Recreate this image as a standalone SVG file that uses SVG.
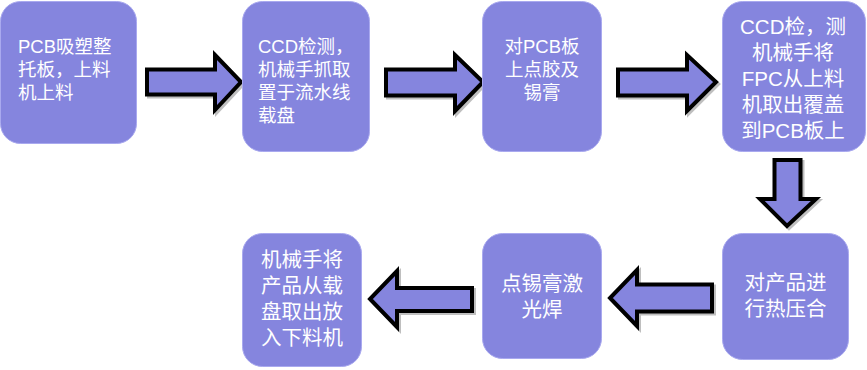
<svg xmlns="http://www.w3.org/2000/svg" width="867" height="370" viewBox="0 0 867 370">
<defs>
<style>
.box{fill:#8585de;stroke:#a9a9ef;stroke-width:1}
.arr{fill:#8585de;stroke:#000;stroke-width:4;stroke-linejoin:miter}
.sh{fill:none;stroke:#000;stroke-opacity:0.25;stroke-width:4}
.t{fill:#fff;font-family:"Liberation Sans","Noto Sans CJK SC",sans-serif}
.s18{font-size:18.5px}
.s20{font-size:20.5px}
.c{text-anchor:middle}
</style>
</defs>
<rect width="867" height="370" fill="#fff"/>
<g id="connectors">
<polygon class="sh" points="149,71.5 217,71.5 217,57 243,84 217,112 217,96.5 149,96.5"/>
<polygon class="arr" points="147,69.5 215,69.5 215,55 241,82 215,110 215,94.5 147,94.5"/>
<polygon class="sh" points="388,71.5 457,71.5 457,57 485,84 457,113 457,97.5 388,97.5"/>
<polygon class="arr" points="386,69.5 455,69.5 455,55 483,82 455,111 455,95.5 386,95.5"/>
<polygon class="sh" points="620,71.5 689,71.5 689,57 718,84 689,113 689,97.5 620,97.5"/>
<polygon class="arr" points="618,69.5 687,69.5 687,55 716,82 687,111 687,95.5 618,95.5"/>
<polygon class="sh" points="776.5,162 802.5,162 802.5,201 818,201 789,228 762,201 776.5,201"/>
<polygon class="arr" points="774.5,160 800.5,160 800.5,199 816,199 787,226 760,199 774.5,199"/>
<polygon class="sh" points="714,286.5 639,286.5 639,272 612,300 639,328 639,313.5 714,313.5"/>
<polygon class="arr" points="712,284.5 637,284.5 637,270 610,298 637,326 637,311.5 712,311.5"/>
<polygon class="sh" points="474,290 399,290 399,273 372,301 399,329 399,313 474,313"/>
<polygon class="arr" points="472,288 397,288 397,271 370,299 397,327 397,311 472,311"/>
</g>
<g id="n1">
<rect class="box" x="0.5" y="1.5" width="136" height="142" rx="20"/>
<text class="t s18"><tspan x="18" y="53">PCB吸塑整</tspan><tspan x="18" y="76">托板，上料</tspan><tspan x="18" y="99">机上料</tspan></text>
</g>
<g id="n2">
<rect class="box" x="242.5" y="1.5" width="127" height="150" rx="20"/>
<text class="t s18"><tspan x="258" y="53">CCD检测，</tspan><tspan x="258" y="76">机械手抓取</tspan><tspan x="258" y="99">置于流水线</tspan><tspan x="258" y="122">载盘</tspan></text>
</g>
<g id="n3">
<rect class="box" x="482.5" y="1.5" width="119" height="150" rx="20"/>
<text class="t s18 c"><tspan x="542" y="53">对PCB板</tspan><tspan x="542" y="76">上点胶及</tspan><tspan x="542" y="99">锡膏</tspan></text>
</g>
<g id="n4">
<rect class="box" x="722.5" y="1.5" width="143" height="150" rx="20"/>
<text class="t s20 c"><tspan x="793" y="34">CCD检，测</tspan><tspan x="793" y="60">机械手将</tspan><tspan x="793" y="86">FPC从上料</tspan><tspan x="793" y="112">机取出覆盖</tspan><tspan x="793" y="138">到PCB板上</tspan></text>
</g>
<g id="n5">
<rect class="box" x="722.5" y="233.5" width="126" height="126" rx="20"/>
<text class="t s20 c"><tspan x="785.5" y="290">对产品进</tspan><tspan x="785.5" y="316">行热压合</tspan></text>
</g>
<g id="n6">
<rect class="box" x="482.5" y="233.5" width="119" height="125" rx="20"/>
<text class="t s20 c"><tspan x="542" y="291">点锡膏激</tspan><tspan x="542" y="317">光焊</tspan></text>
</g>
<g id="n7">
<rect class="box" x="242.5" y="233.5" width="119" height="133" rx="20"/>
<text class="t s20 c"><tspan x="302" y="267">机械手将</tspan><tspan x="302" y="293">产品从载</tspan><tspan x="302" y="319">盘取出放</tspan><tspan x="302" y="345">入下料机</tspan></text>
</g>
</svg>
